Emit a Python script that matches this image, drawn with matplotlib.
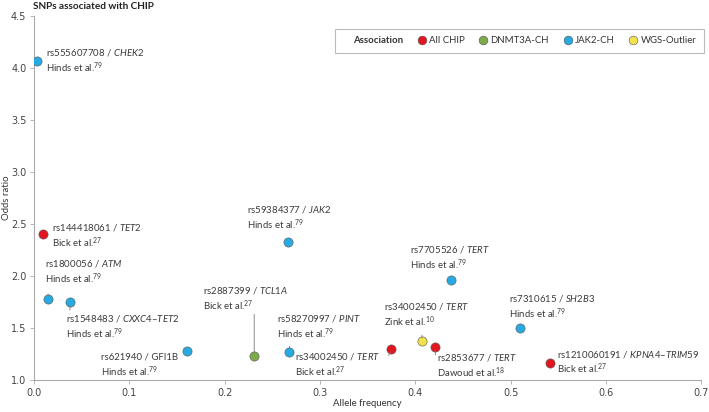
import matplotlib
matplotlib.use("Agg")
import matplotlib.pyplot as plt
from matplotlib.lines import Line2D

plt.rcParams['font.family'] = ['Lato', 'DejaVu Sans']
plt.rcParams['mathtext.fontset'] = 'custom'
plt.rcParams['mathtext.rm'] = 'Lato'
plt.rcParams['mathtext.it'] = 'Lato:italic'

# data
snps = ['rs555607708', 'rs144418061', 'rs59384377', 'rs1800056', 'rs1548483',
        'rs621940', 'rs2887399', 'rs58270997', 'rs34002450', 'rs34002450',
        'rs2853677', 'rs7705526', 'rs7310615', 'rs1210060191']
genes = ['CHEK2', 'TET2', 'JAK2', 'ATM', 'CXXC4–TET2', 'GFI1B', 'TCL1A', 'PINT',
         'TERT', 'TERT', 'TERT', 'TERT', 'SH2B3', 'KPNA4–TRIM59']
gene_italic = [True, True, True, True, True, False, True, True,
               True, True, True, True, True, True]
refs = ['Hinds et al.', 'Bick et al.', 'Hinds et al.', 'Hinds et al.', 'Hinds et al.',
        'Hinds et al.', 'Bick et al.', 'Hinds et al.', 'Bick et al.', 'Zink et al.',
        'Dawoud et al.', 'Hinds et al.', 'Hinds et al.', 'Bick et al.']
ref_nums = ['79', '27', '79', '79', '79', '79', '27', '79', '27', '10', '18', '79', '79', '27']
allele_freq = [0.0035, 0.0098, 0.266, 0.0147, 0.0377, 0.161, 0.231, 0.268,
               0.375, 0.407, 0.421, 0.437, 0.510, 0.541]
odds_ratio = [4.07, 2.40, 2.33, 1.78, 1.75, 1.28, 1.23, 1.27,
              1.30, 1.37, 1.32, 1.96, 1.50, 1.16]
association = ['JAK2-CH', 'All CHIP', 'JAK2-CH', 'JAK2-CH', 'JAK2-CH', 'JAK2-CH',
               'DNMT3A-CH', 'JAK2-CH', 'All CHIP', 'WGS-Outlier', 'All CHIP',
               'JAK2-CH', 'JAK2-CH', 'All CHIP']

groups = ['All CHIP', 'DNMT3A-CH', 'JAK2-CH', 'WGS-Outlier']
colors = {'All CHIP': '#e2161f', 'DNMT3A-CH': '#7daa4b',
          'JAK2-CH': '#27a9e1', 'WGS-Outlier': '#f2e34d'}

# label placement: offset (points), ha, va, leader line end offset (points) or None
label_pos = [
    ((6, 0), 'left', 'center', None),
    ((6, -1), 'left', 'center', None),
    ((-29, 7), 'left', 'bottom', None),
    ((-2, 9), 'left', 'bottom', (0, 3.5)),
    ((-3, -8), 'left', 'top', (0, -6)),
    ((-7, -1.5), 'right', 'top', (-2.5, 1.5)),
    ((-37, 31), 'left', 'bottom', (0, 30)),
    ((-9, 8), 'left', 'bottom', (0, 4)),
    ((-8, -2), 'right', 'top', (-2, -5)),
    ((-27, 9), 'left', 'bottom', (0, 4.5)),
    ((1.5, -4), 'left', 'top', (0, -6)),
    ((-29, 6), 'left', 'bottom', None),
    ((-8, 5), 'left', 'bottom', None),
    ((5, 0.5), 'left', 'center', None),
]

fig = plt.figure(figsize=(7.09, 4.12), dpi=100)
ax = fig.add_axes([0.048, 0.078, 0.941, 0.883])

for g in groups:
    xs = [x for x, a in zip(allele_freq, association) if a == g]
    ys = [y for y, a in zip(odds_ratio, association) if a == g]
    ax.scatter(xs, ys, s=44, color=colors[g], edgecolor='#555555',
               linewidth=0.4, zorder=3)

txt_color = '#3a3a3a'
for i in range(len(snps)):
    gene = genes[i].replace('–', '{–}')
    if gene_italic[i]:
        gtxt = r'$\mathit{' + gene + '}$'
    else:
        gtxt = genes[i]
    label = snps[i] + ' / ' + gtxt + '\n' + refs[i] + r'$^{' + ref_nums[i] + '}$'
    off, ha, va, lead = label_pos[i]
    ax.annotate(label, (allele_freq[i], odds_ratio[i]), xytext=off,
                textcoords='offset points', ha=ha, va=va, fontsize=6.9,
                color=txt_color, linespacing=1.2, multialignment='left')
    if lead is not None:
        ax.annotate('', (allele_freq[i], odds_ratio[i]), xytext=lead,
                    textcoords='offset points',
                    arrowprops=dict(arrowstyle='-', color='#777777', lw=0.6,
                                    shrinkA=0, shrinkB=2.5))

ax.set_xlim(0, 0.7)
ax.set_ylim(1.0, 4.5)
ax.set_xticks([0, 0.1, 0.2, 0.3, 0.4, 0.5, 0.6, 0.7])
ax.set_yticks([1.0, 1.5, 2.0, 2.5, 3.0, 3.5, 4.0, 4.5])
ax.set_xticklabels(['0.0', '0.1', '0.2', '0.3', '0.4', '0.5', '0.6', '0.7'])
ax.set_yticklabels(['1.0', '1.5', '2.0', '2.5', '3.0', '3.5', '4.0', '4.5'])
for t in ax.get_xticklabels() + ax.get_yticklabels():
    t.set_family(['Liberation Sans Narrow', 'DejaVu Sans'])
for s in ['top', 'right']:
    ax.spines[s].set_visible(False)
for s in ['left', 'bottom']:
    ax.spines[s].set_color('#aaaaaa')
    ax.spines[s].set_linewidth(0.8)
ax.tick_params(colors='#aaaaaa', labelcolor='#444444', labelsize=7,
               length=3, width=0.6, pad=2.5)
ax.set_xlabel('Allele frequency', fontsize=6.9, color='#333333')
ax.set_ylabel('Odds ratio', fontsize=6.9, color='#333333')
ax.xaxis.set_label_coords(0.5, -0.052)
ax.yaxis.set_label_coords(-0.035, 0.5)

fig.text(0.047, 0.995, 'SNPs associated with CHIP', fontsize=7.2,
         fontweight='bold', color='#222222', ha='left', va='top')

handles = [Line2D([], [], linestyle='none', marker=None)]
labels = ['Association']
for g in groups:
    handles.append(Line2D([], [], linestyle='none', marker='o', markersize=6.3,
                          markerfacecolor=colors[g], markeredgecolor='#555555',
                          markeredgewidth=0.4))
    labels.append(g)
leg = ax.legend(handles, labels, ncol=5, loc='upper right',
                bbox_to_anchor=(1.004, 0.965), borderaxespad=0, fontsize=6.9,
                frameon=True, fancybox=False, edgecolor='#aaaaaa',
                handlelength=0.6, handletextpad=0.45, columnspacing=1.65,
                borderpad=0.8)
leg.get_frame().set_linewidth(0.8)
for t in leg.get_texts():
    t.set_color('#333333')
leg.get_texts()[0].set_fontweight('bold')

fig.savefig('out.png', dpi=100)
